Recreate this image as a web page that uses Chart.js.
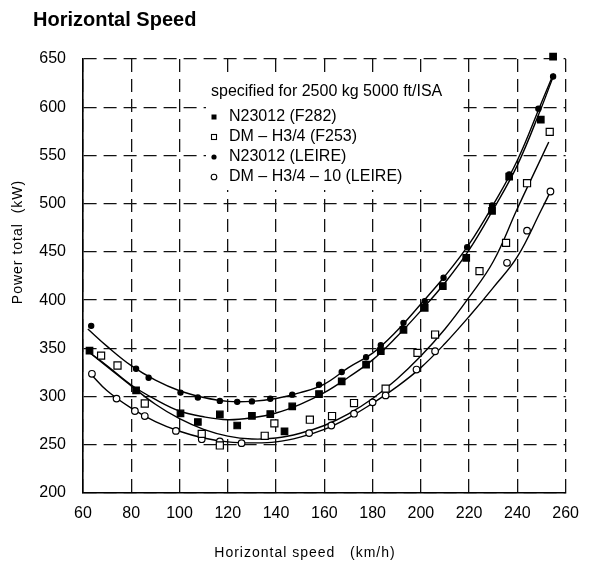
<!DOCTYPE html>
<html>
<head>
<meta charset="utf-8">
<script src="https://cdn.jsdelivr.net/npm/chart.js@4/dist/chart.umd.min.js"></script>
<style>
  html, body { margin: 0; padding: 0; background: #fff; }
  canvas { display: block; }
</style>
</head>
<body>
<canvas id="myChart" width="590" height="562"></canvas>
<script>
// axis ticks
const xTicks = [60, 80, 100, 120, 140, 160, 180, 200, 220, 240, 260];
const yTicks = [200, 250, 300, 350, 400, 450, 500, 550, 600, 650];

// N23012 (F282) - filled squares
const f282X = [62.7, 82.0, 100.4, 107.6, 116.7, 123.9, 130.0, 137.6, 143.5, 146.7, 157.8, 167.2, 177.3, 183.4, 192.8, 201.6, 209.1, 218.8, 229.5, 236.6, 249.7, 254.8];
const f282Y = [347.6, 306.5, 282.5, 273.6, 281.5, 270.0, 280.0, 281.8, 264.0, 289.8, 302.6, 315.8, 333.1, 347.0, 369.2, 392.0, 414.6, 443.8, 492.6, 528.0, 587.1, 652.4];

// DM - H3/4 (F253) - open squares
const f253X = [67.5, 74.3, 85.6, 109.2, 116.7, 135.3, 139.3, 154.0, 163.2, 172.3, 185.4, 198.6, 205.9, 224.3, 235.3, 244.0, 253.4];
const f253Y = [342.5, 332.2, 292.8, 261.3, 249.3, 259.3, 272.2, 276.0, 279.8, 293.3, 308.2, 345.3, 364.3, 430.1, 459.3, 521.2, 574.4];

// N23012 (LEIRE) - filled circles
const leireX = [63.4, 82.0, 87.2, 100.4, 107.6, 116.7, 123.9, 130.0, 137.6, 146.7, 157.8, 167.2, 177.3, 183.4, 192.8, 201.6, 209.4, 219.2, 229.5, 236.6, 248.7, 254.8];
const leireY = [373.3, 328.8, 319.5, 304.1, 299.0, 295.5, 294.5, 295.0, 297.8, 302.0, 312.3, 325.5, 340.7, 353.2, 376.4, 399.0, 423.2, 454.8, 498.1, 530.4, 598.5, 631.8];

// DM - H3/4 - 10 (LEIRE) - open circles
const dm10X = [63.7, 73.9, 81.5, 85.6, 98.5, 109.2, 116.7, 125.7, 153.7, 162.9, 172.3, 180.0, 185.4, 198.2, 205.9, 235.7, 244.0, 253.7];
const dm10Y = [323.6, 297.9, 285.0, 279.8, 264.4, 255.8, 253.4, 251.7, 262.1, 270.0, 282.2, 294.0, 301.2, 328.0, 347.0, 438.7, 472.0, 512.6];

// fitted curves
const curveAX = [62, 70, 80, 90, 100, 110, 120, 130, 140, 150, 160, 170, 180, 190, 200, 210, 220, 230, 240, 250, 255];
const curveAY = [370, 352, 332, 317, 306, 299, 295, 295, 298, 304, 313, 330, 345, 368, 396, 425, 458, 499, 545, 605, 635];
const curveBX = [62, 70, 80, 90, 100, 110, 120, 130, 140, 150, 160, 170, 180, 190, 200, 210, 220, 230, 240, 250, 255];
const curveBY = [347, 332, 312, 297, 285, 279, 276, 278, 283, 292, 304, 320, 338, 362, 389, 418, 452, 494, 540, 600, 633];
const curveCX = [62, 70, 80, 90, 100, 110, 120, 130, 140, 150, 160, 170, 180, 190, 200, 210, 220, 230, 240, 250, 253];
const curveCY = [347, 331, 311, 292, 277, 266, 259, 256, 257, 262, 270, 282, 298, 318, 342, 370, 403, 440, 495, 548, 564];
const curveDX = [63, 70, 80, 90, 100, 110, 120, 130, 140, 150, 160, 170, 180, 190, 200, 210, 220, 230, 240, 250, 254];
const curveDY = [324, 306, 288, 274, 264, 257, 253, 252, 253, 258, 266, 278, 293, 310, 330, 355, 383, 413, 445, 494, 514];

const chartTitle = "Horizontal Speed";
const xTitle = "Horizontal speed   (km/h)";
const yTitle = "Power total  (kW)";
const legendTitle = "specified for 2500 kg 5000 ft/ISA";
const legendLabels = ["N23012 (F282)", "DM \u2013 H3/4 (F253)", "N23012 (LEIRE)", "DM \u2013 H3/4 \u2013 10 (LEIRE)"];
const legendStyles = ["fsq", "osq", "fci", "oci"];

const FONT = '"Liberation Sans", Arial, Helvetica, sans-serif';

function toPts(xs, ys) {
  return xs.map((x, i) => ({ x: x, y: ys[i] }));
}

function pointSet(xs, ys, style, radius, filled) {
  return {
    type: "scatter",
    data: toPts(xs, ys),
    pointStyle: style,
    pointRadius: radius,
    pointBackgroundColor: filled ? "#000" : "#fff",
    pointBorderColor: "#000",
    pointBorderWidth: 1.2,
    showLine: false,
    clip: 10,
    order: 1,
  };
}

function curveSet(xs, ys) {
  return {
    type: "line",
    data: toPts(xs, ys),
    borderColor: "#000",
    borderWidth: 1.4,
    pointRadius: 0,
    fill: false,
    tension: 0.4,
    order: 2,
  };
}

function drawMarker(ctx, style, x, y) {
  ctx.save();
  ctx.lineWidth = 1.1;
  ctx.strokeStyle = "#000";
  ctx.fillStyle = "#000";
  if (style === "fsq") {
    ctx.fillRect(x - 2.5, y - 2.5, 5, 5);
  } else if (style === "osq") {
    ctx.strokeRect(x - 2.5, y - 2.5, 5, 5);
  } else if (style === "fci") {
    ctx.beginPath();
    ctx.arc(x, y, 2.6, 0, Math.PI * 2);
    ctx.fill();
  } else {
    ctx.beginPath();
    ctx.arc(x, y, 2.8, 0, Math.PI * 2);
    ctx.stroke();
  }
  ctx.restore();
}

const extras = {
  id: "extras",
  beforeDatasetsDraw(chart) {
    const ctx = chart.ctx;
    ctx.save();
    // white box behind the legend hides the grid
    ctx.fillStyle = "#fff";
    ctx.fillRect(206, 77, 256, 113);
    ctx.fillStyle = "#000";
    ctx.font = "16px " + FONT;
    ctx.textBaseline = "middle";
    ctx.fillText(legendTitle, 211, 92);
    legendLabels.forEach((label, i) => {
      const y = 117 + i * 20;
      drawMarker(ctx, legendStyles[i], 214, y);
      ctx.fillStyle = "#000";
      ctx.fillText(label, 229, y);
    });
    ctx.restore();
  },
  afterDraw(chart) {
    const ctx = chart.ctx;
    ctx.save();
    ctx.fillStyle = "#000";
    ctx.font = "bold 20px " + FONT;
    ctx.textBaseline = "alphabetic";
    ctx.fillText(chartTitle, 33, 26);

    // axis titles
    ctx.font = "14px " + FONT;
    ctx.letterSpacing = "1px";
    ctx.textAlign = "center";
    ctx.textBaseline = "middle";
    ctx.fillText(xTitle, 305, 553);
    ctx.translate(18, 242);
    ctx.rotate(-Math.PI / 2);
    ctx.fillText(yTitle, 0, 0);
    ctx.restore();
  },
};

const data = {
  datasets: [
    pointSet(f282X, f282Y, "rect", 4.6, true),
    pointSet(f253X, f253Y, "rect", 5, false),
    pointSet(leireX, leireY, "circle", 2.6, true),
    pointSet(dm10X, dm10Y, "circle", 3.3, false),
    curveSet(curveAX, curveAY),
    curveSet(curveBX, curveBY),
    curveSet(curveCX, curveCY),
    curveSet(curveDX, curveDY),
  ],
};

const config = {
  type: "scatter",
  data,
  options: {
    responsive: false,
    animation: false,
    devicePixelRatio: 1,
    layout: { padding: { top: 59, right: 13, left: 0, bottom: 0 } },
    plugins: {
      legend: { display: false },
      tooltip: { enabled: false },
    },
    scales: {
      x: {
        type: "linear",
        min: xTicks[0],
        max: xTicks[xTicks.length - 1],
        afterFit: (s) => { s.height = 69; },
        afterBuildTicks: (s) => { s.ticks = xTicks.map((v) => ({ value: v })); },
        ticks: { color: "#000", font: { family: FONT, size: 16 }, padding: 11, maxRotation: 0 },
        grid: { color: "#111", lineWidth: 1.3, drawTicks: false },
        border: { display: true, color: "#000", width: 1.6, dash: [13, 7] },
      },
      y: {
        type: "linear",
        min: yTicks[0],
        max: yTicks[yTicks.length - 1],
        afterFit: (s) => { s.width = 83; },
        afterBuildTicks: (s) => { s.ticks = yTicks.map((v) => ({ value: v })); },
        ticks: { color: "#000", font: { family: FONT, size: 16 }, padding: 17 },
        grid: { color: "#111", lineWidth: 1.3, drawTicks: false },
        border: { display: true, color: "#000", width: 1.6, dash: [13, 7] },
      },
    },
  },
  plugins: [extras],
};

const myChart = new Chart(document.getElementById("myChart"), config);
</script>
</body>
</html>
